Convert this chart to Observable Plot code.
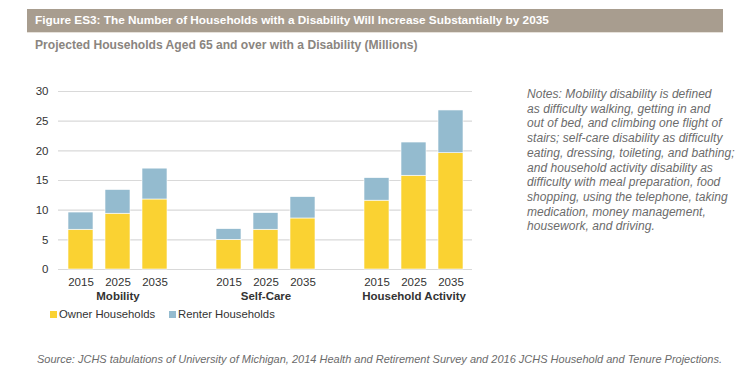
<!DOCTYPE html>
<html>
<head>
<meta charset="utf-8">
<script src="https://cdn.jsdelivr.net/npm/d3@7"></script>
<script src="https://cdn.jsdelivr.net/npm/@observablehq/plot@0.6"></script>
<style>
  html, body { margin: 0; padding: 0; background: #fff; }
  #root { position: relative; width: 741px; height: 379px; overflow: hidden; font-family: "Liberation Sans", Arial, sans-serif; }
  .titlebar { position: absolute; left: 27px; top: 9px; width: 696px; height: 23px; background: #a89d8f; border-bottom: 1px solid #e6e1da; }
  .title { position: absolute; left: 8px; top: 4px; color: #fff; font-family: "Liberation Sans", Arial, sans-serif; font-weight: bold; font-size: 11.8px; white-space: nowrap; }
  .subtitle { position: absolute; left: 35px; top: 38px; color: #8a8580; font-family: "Liberation Sans", Arial, sans-serif; font-weight: bold; font-size: 12.1px; white-space: nowrap; }
  .notes { position: absolute; left: 527px; top: 87px; width: 214px; color: #6b6b6b; font-style: italic; font-size: 12px; letter-spacing: 0.05px; line-height: 14.7px; white-space: nowrap; }
  .source { position: absolute; left: 37px; top: 353px; color: #6b6b6b; font-style: italic; font-size: 11px; white-space: nowrap; }
  .legend { position: absolute; left: 50px; top: 308px; font-size: 11.3px; color: #333; display: flex; gap: 14px; }
  .legend span.sw { display: inline-block; width: 7px; height: 7px; margin-right: 2px; }
  #chart { position: absolute; left: 0; top: 80px; }
</style>
</head>
<body>
<div id="root">
  <div class="titlebar"><div class="title">Figure ES3: The Number of Households with a Disability Will Increase Substantially by 2035</div></div>
  <div class="subtitle">Projected Households Aged 65 and over with a Disability (Millions)</div>
  <div id="chart"></div>
  <div class="legend" id="legend"></div>
  <div class="notes">Notes: Mobility disability is defined<br>as difficulty walking, getting in and<br>out of bed, and climbing one flight of<br>stairs; self-care disability as difficulty<br>eating, dressing, toileting, and bathing;<br>and household activity disability as<br>difficulty with meal preparation, food<br>shopping, using the telephone, taking<br>medication, money management,<br>housework, and driving.</div>
  <div class="source">Source: JCHS tabulations of University of Michigan, 2014 Health and Retirement Survey and 2016 JCHS Household and Tenure Projections.</div>
</div>
<script>
const categories = ["Mobility", "Self-Care", "Household Activity"];
const years = ["2015", "2025", "2035"];
const series = ["Owner Households", "Renter Households"];
const ownerValues = [[6.7, 9.4, 11.8], [5.0, 6.7, 8.6], [11.6, 15.8, 19.6]];
const renterValues = [[2.9, 4.0, 5.2], [1.8, 2.8, 3.6], [3.8, 5.6, 7.2]];
const yTicks = [0, 5, 10, 15, 20, 25, 30];
const colors = ["#fad232", "#94bbcf"];

// slot domain: each category's years plus an empty gap slot between groups
const slots = [];
categories.forEach((c, i) => {
  years.forEach(y => slots.push(c + "|" + y));
  if (i < categories.length - 1) slots.push("gap" + i);
});

const rows = [];
categories.forEach((c, i) => {
  years.forEach((y, j) => {
    rows.push({slot: c + "|" + y, series: series[0], value: ownerValues[i][j]});
    rows.push({slot: c + "|" + y, series: series[1], value: renterValues[i][j]});
  });
});
const groupLabels = categories.map(c => ({slot: c + "|" + years[1], label: c}));

const chart = Plot.plot({
  width: 500,
  height: 240,
  marginLeft: 58,
  marginRight: 28,
  marginTop: 11,
  marginBottom: 51,
  style: {fontFamily: "'Liberation Sans', Arial, sans-serif", fontSize: "11.5px", color: "#333", background: "transparent"},
  x: {domain: slots, paddingInner: 0.33, paddingOuter: 0.165, align: 0.5},
  y: {domain: [0, 30], ticks: yTicks},
  color: {domain: series, range: colors},
  marks: [
    Plot.gridY(yTicks, {stroke: "#d9d9d9", strokeOpacity: 1, strokeWidth: 1.2}),
    Plot.barY(rows, Plot.stackY({x: "slot", y: "value", fill: "series", order: series, stroke: "#ffffff", strokeWidth: 0.6})),
    Plot.axisY(yTicks, {tickSize: 0, tickPadding: 10, fontSize: 11.5, fill: "#333", label: null}),
    Plot.axisX(slots.filter(s => !s.startsWith("gap")), {tickSize: 0, tickPadding: 8, fontSize: 11.5, fill: "#333", label: null, tickFormat: s => s.split("|")[1]}),
    Plot.text(groupLabels, {x: "slot", frameAnchor: "bottom", dy: 30, text: "label", fontWeight: "bold", fontSize: 11.5, fill: "#333"})
  ]
});
document.getElementById("chart").appendChild(chart);

const legend = document.getElementById("legend");
series.forEach((s, i) => {
  const item = document.createElement("div");
  item.innerHTML = `<span class="sw" style="background:${colors[i]}"></span>${s}`;
  legend.appendChild(item);
});
</script>
</body>
</html>
